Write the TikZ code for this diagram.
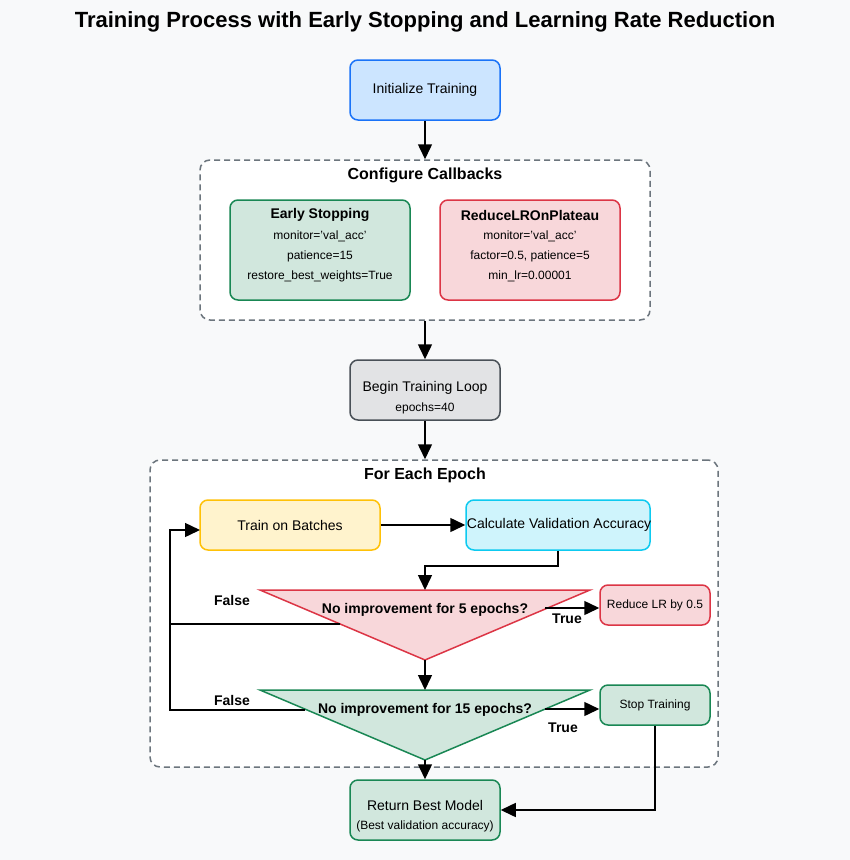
\documentclass[tikz,border=0pt]{standalone}
\usepackage{fontspec}
\setmainfont{Liberation Sans}
\usetikzlibrary{arrows.meta}
\definecolor{bg}{HTML}{F8F9FA}
\definecolor{blueF}{HTML}{CCE5FF}\definecolor{blueD}{HTML}{1A73F8}
\definecolor{greenF}{HTML}{D1E7DD}\definecolor{greenD}{HTML}{198754}
\definecolor{redF}{HTML}{F8D7DA}\definecolor{redD}{HTML}{DC3545}
\definecolor{grayF}{HTML}{E2E3E5}\definecolor{grayD}{HTML}{495057}
\definecolor{yelF}{HTML}{FFF3CD}\definecolor{yelD}{HTML}{FFC107}
\definecolor{cyanF}{HTML}{CFF4FC}\definecolor{cyanD}{HTML}{0DCAF0}
\definecolor{dashC}{HTML}{6C757D}
\tikzset{
  box/.style={draw, rounded corners=8pt, line width=1.5pt, inner sep=0pt, font=\fontsize{14}{16}\selectfont},
  group/.style={draw=dashC, fill=white, rounded corners=10pt, line width=1.5pt, dash pattern=on 6pt off 4pt, inner sep=0pt},
  conn/.style={line width=1.5pt, -{Triangle[length=15pt,width=14pt]}},
  plain/.style={line width=1.5pt},
  hd/.style={font=\fontsize{16}{18}\selectfont\bfseries},
  bt/.style={font=\fontsize{14}{16}\selectfont\bfseries},
  sm/.style={font=\fontsize{12}{14}\selectfont},
  md/.style={font=\fontsize{14}{16}\selectfont},
  tri/.style={line width=1.5pt, line join=miter},
}
\begin{document}
\begin{tikzpicture}[x=1pt,y=-1pt]
\fill[bg] (0,0) rectangle (850,860);
\useasboundingbox (0,0) rectangle (850,860);

\node[font=\fontsize{22}{26}\selectfont\bfseries] (title) at (425,22) {Training Process with Early Stopping and Learning Rate Reduction};

\node[box, fill=blueF, draw=blueD, minimum width=150pt, minimum height=60pt] (init) at (425,90) {Initialize Training};

% Configure callbacks group
\node[group, minimum width=450pt, minimum height=160pt] (cfg) at (425,240) {};
\node[hd] (cfgt) at (425,175) {Configure Callbacks};
\node[box, fill=greenF, draw=greenD, minimum width=180pt, minimum height=100pt] (es) at (320,250) {};
\node[bt] (est) at (320,215) {Early Stopping};
\node[sm] (es1) at (320,236) {monitor='val\_acc'};
\node[sm] (es2) at (320,256) {patience=15};
\node[sm] (es3) at (320,276) {restore\_best\_weights=True};
\node[box, fill=redF, draw=redD, minimum width=180pt, minimum height=100pt] (rl) at (530,250) {};
\node[bt] (rlt) at (530,215) {ReduceLROnPlateau};
\node[sm] (rl1) at (530,236) {monitor='val\_acc'};
\node[sm] (rl2) at (530,256) {factor=0.5, patience=5};
\node[sm] (rl3) at (530,276) {min\_lr=0.00001};

\draw[conn] (init.south) -- (cfg.north);

% Begin loop
\node[box, fill=grayF, draw=grayD, minimum width=150pt, minimum height=60pt] (loop) at (425,390) {};
\node[md] (loopt) at (425,388) {Begin Training Loop};
\node[sm] (loops) at (425,408) {epochs=40};
\draw[conn] (cfg.south) -- (loop.north);

% For each epoch group
\node[group, minimum width=568pt, minimum height=307pt] (ep) at (434,613.5) {};
\node[hd] (ept) at (425,475) {For Each Epoch};
\draw[conn] (loop.south) -- (ep.north -| loop.south);

\node[box, fill=yelF, draw=yelD, minimum width=180pt, minimum height=50pt] (train) at (290,525) {Train on Batches};
\node[box, fill=cyanF, draw=cyanD, minimum width=184pt, minimum height=50pt] (calc) at (558,525) {};
\node[md] (calct) at (559,525) {Calculate Validation Accuracy};
\draw[conn] (train.east) -- (calc.west);

% triangle 1
\coordinate (t1l) at (260,590);
\coordinate (t1r) at (590,590);
\coordinate (t1top) at (425,590);
\coordinate (t1b) at (425,660);
\draw[tri, fill=redF, draw=redD] (t1l) -- (t1r) -- (t1b) -- cycle;
\node[bt] (t1t) at (425,610) {No improvement for 5 epochs?};
\draw[conn] (calc.south) -- ++(0,15) -| (t1top);

\node[box, fill=redF, draw=redD, minimum width=110pt, minimum height=40pt, font=\fontsize{12}{14}\selectfont] (rlr) at (655,605) {Reduce LR by 0.5};
\coordinate (t1out) at (545,608);
\draw[conn] (t1out) -- (rlr.west |- t1out);
\node[bt] (tr1) at (567,619) {True};

% triangle 2
\coordinate (t2l) at (260,690);
\coordinate (t2r) at (590,690);
\coordinate (t2top) at (425,690);
\coordinate (t2b) at (425,760);
\draw[tri, fill=greenF, draw=greenD] (t2l) -- (t2r) -- (t2b) -- cycle;
\node[bt] (t2t) at (425,710) {No improvement for 15 epochs?};
\draw[conn] (t1b) -- (t2top);

\node[box, fill=greenF, draw=greenD, minimum width=110pt, minimum height=40pt, font=\fontsize{12}{14}\selectfont] (stop) at (655,705) {Stop Training};
\coordinate (t2out) at (545,709);
\draw[conn] (t2out) -- (stop.west |- t2out);
\node[bt] (tr2) at (563,728) {True};

% false loops
\coordinate (f1) at (340,624);
\coordinate (f2) at (305,710);
\coordinate (lc) at (170,624);
\coordinate (trainin) at (200,530);
\draw[plain] (f1) -- (lc);
\draw[conn] (f2) -- (170,710) -- (170,530) -- (trainin);
\node[bt] (fa1) at (232,600) {False};
\node[bt] (fa2) at (232,700) {False};

% return
\node[box, fill=greenF, draw=greenD, minimum width=150pt, minimum height=60pt] (ret) at (425,810) {};
\node[md] (rett) at (425,805) {Return Best Model};
\node[sm] (rets) at (425,826) {(Best validation accuracy)};
\draw[conn] (t2b) -- (ret.north);
\draw[conn] (stop.south) |- (ret.east);
\end{tikzpicture}
\end{document}
